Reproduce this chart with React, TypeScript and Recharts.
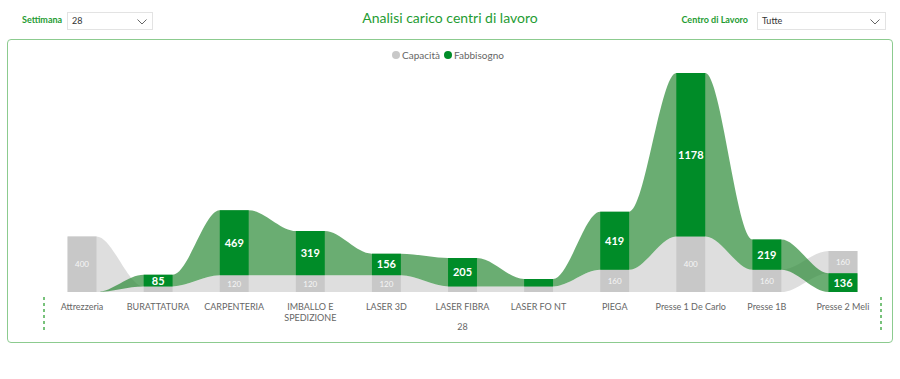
import React from "react";
import { ComposedChart, Area, Scatter, XAxis, YAxis } from "recharts";

const categories = [
  "Attrezzeria",
  "BURATTATURA",
  "CARPENTERIA",
  "IMBALLO E SPEDIZIONE",
  "LASER 3D",
  "LASER FIBRA",
  "LASER FO NT",
  "PIEGA",
  "Presse 1 De Carlo",
  "Presse 1B",
  "Presse 2 Meli",
];
const capacita = [400, 40, 120, 120, 120, 40, 40, 160, 400, 160, 160];
const fabbisogno = [0, 85, 469, 319, 156, 205, 54, 419, 1178, 219, 136];
const weekLabel = "28";

const FONT = "'Segoe UI', Lato, 'Open Sans', sans-serif";
const GREEN = "#008c28";
const GREEN_RIBBON = "#2b8a36";
const GREY = "#c8c8c8";
const TITLE_GREEN = "#1f9c33";

// half of a bar's width, in category units
const HALF = 0.19;
const MIN_LABEL_VALUE = 70;
const TICK_WRAP = 74;

// ribbon chart: in every category the larger value sits on top
function bands(i: number): Record<string, [number, number]> {
  const items = [
    { key: "cap", v: capacita[i] },
    { key: "fab", v: fabbisogno[i] },
  ].sort((a, b) => a.v - b.v);
  let base = 0;
  const out: Record<string, [number, number]> = {};
  for (const it of items) {
    out[it.key] = [base, base + it.v];
    base += it.v;
  }
  return out;
}

const rows: any[] = [];
categories.forEach((_, i) => {
  const b = bands(i);
  rows.push({ x: i - HALF, cap: b.cap, fab: b.fab });
  rows.push({ x: i + HALF, cap: b.cap, fab: b.fab });
  if (i < categories.length - 1) rows.push({ x: i + 0.5 });
});

const labelRows = categories
  .flatMap((_, i) => {
    const b = bands(i);
    return [
      { x: i, mid: (b.cap[0] + b.cap[1]) / 2, value: capacita[i], kind: "cap" },
      { x: i, mid: (b.fab[0] + b.fab[1]) / 2, value: fabbisogno[i], kind: "fab" },
    ];
  })
  .filter((r) => r.value >= MIN_LABEL_VALUE);

const yMax = Math.max(...categories.map((_, i) => capacita[i] + fabbisogno[i]));
const tickValues = [-0.5, ...categories.map((_, i) => i), categories.length - 0.5];

let ctx: CanvasRenderingContext2D | null = null;
function wrapLabel(label: string, max: number): string[] {
  if (!ctx) ctx = document.createElement("canvas").getContext("2d");
  if (ctx) ctx.font = `9px ${FONT}`;
  const measure = (s: string) => (ctx ? ctx.measureText(s).width : s.length * 5);
  const lines: string[] = [];
  let cur = "";
  for (const w of label.split(" ")) {
    const next = cur ? cur + " " + w : w;
    if (cur && measure(next) > max) {
      lines.push(cur);
      cur = w;
    } else cur = next;
  }
  if (cur) lines.push(cur);
  return lines;
}

function ValueLabel(props: any) {
  const { cx, cy, payload } = props;
  const fab = payload.kind === "fab";
  return (
    <text
      x={cx}
      y={cy}
      dy="0.36em"
      textAnchor="middle"
      fill={fab ? "#ffffff" : "#f6f6f6"}
      fontSize={fab ? 11 : 8}
      fontWeight={fab ? 700 : 400}
      fontFamily={FONT}
    >
      {payload.value}
    </text>
  );
}

function CategoryTick(props: any) {
  const { x, y, payload } = props;
  const v = payload.value;
  if (v < 0 || v > categories.length - 1) {
    return (
      <line x1={x} x2={x} y1={y + 5} y2={y + 41} stroke="#4caf50" strokeWidth={1.5} strokeDasharray="3 3" />
    );
  }
  const lines = wrapLabel(categories[v], TICK_WRAP);
  return (
    <text x={x} y={y + 18} textAnchor="middle" fill="#666" fontSize={9} fontFamily={FONT}>
      {lines.map((l, k) => (
        <tspan key={k} x={x} dy={k === 0 ? 0 : 11}>
          {l}
        </tspan>
      ))}
    </text>
  );
}

function Dropdown({ left, width, value }: { left: number; width: number; value: string }) {
  return (
    <div
      style={{
        position: "absolute",
        left,
        top: 12,
        width,
        height: 18,
        boxSizing: "border-box",
        border: "1px solid #e3e3e3",
        fontSize: 9,
        color: "#333",
        lineHeight: "16px",
        paddingLeft: 4,
      }}
    >
      {value}
      <svg width={10} height={6} style={{ position: "absolute", right: 5, top: 6 }}>
        <polyline points="0.5,0.5 5,5 9.5,0.5" fill="none" stroke="#666" strokeWidth={1} />
      </svg>
    </div>
  );
}

function LegendDot({ color, label }: { color: string; label: string }) {
  return (
    <span style={{ display: "inline-flex", alignItems: "center", marginRight: 4 }}>
      <span style={{ width: 8, height: 8, borderRadius: 4, background: color, marginRight: 2 }} />
      {label}
    </span>
  );
}

export default function App() {
  return (
    <div
      style={{
        position: "absolute",
        left: 0,
        top: 0,
        width: 900,
        height: 379,
        background: "#fff",
        fontFamily: FONT,
        overflow: "hidden",
      }}
    >
      <div style={{ position: "absolute", left: 22, top: 14, fontSize: 9, fontWeight: 700, color: TITLE_GREEN }}>
        Settimana
      </div>
      <Dropdown left={67} width={86} value={weekLabel} />
      <div
        style={{
          position: "absolute",
          left: 0,
          top: 9,
          width: 900,
          textAlign: "center",
          fontSize: 14,
          color: TITLE_GREEN,
        }}
      >
        Analisi carico centri di lavoro
      </div>
      <div
        style={{
          position: "absolute",
          right: 152,
          top: 14,
          fontSize: 9,
          fontWeight: 700,
          color: TITLE_GREEN,
          whiteSpace: "nowrap",
        }}
      >
        Centro di Lavoro
      </div>
      <Dropdown left={757} width={129} value="Tutte" />

      <div
        style={{
          position: "absolute",
          left: 7,
          top: 39,
          width: 886,
          height: 304,
          boxSizing: "border-box",
          border: "1.5px solid #8ccb8f",
          borderRadius: 4,
        }}
      />
      <div
        style={{
          position: "absolute",
          left: 0,
          top: 49,
          width: 900,
          textAlign: "center",
          fontSize: 10,
          color: "#666",
          lineHeight: "12px",
        }}
      >
        <LegendDot color={GREY} label="Capacità" />
        <LegendDot color={GREEN} label="Fabbisogno" />
      </div>

      <div style={{ position: "absolute", left: 0, top: 0 }}>
        <ComposedChart width={900} height={379} data={rows} margin={{ top: 73, right: 19, bottom: 42, left: 44 }}>
          <XAxis
            type="number"
            dataKey="x"
            domain={[-0.5, categories.length - 0.5]}
            allowDataOverflow
            ticks={tickValues}
            interval={0}
            tickLine={false}
            axisLine={false}
            tickSize={0}
            tickMargin={0}
            height={45}
            tick={<CategoryTick />}
            label={{ value: weekLabel, position: "insideBottom", offset: 7, fill: "#666", fontSize: 9, fontFamily: FONT }}
          />
          <YAxis hide type="number" domain={[0, yMax]} allowDataOverflow />
          <Area
            dataKey="cap"
            type="monotoneX"
            connectNulls
            stroke="none"
            fill={GREY}
            fillOpacity={0.6}
            dot={false}
            activeDot={false}
            isAnimationActive={false}
          />
          <Area
            dataKey="fab"
            type="monotoneX"
            connectNulls
            stroke="none"
            fill={GREEN_RIBBON}
            fillOpacity={0.7}
            dot={false}
            activeDot={false}
            isAnimationActive={false}
          />
          <Area
            dataKey="cap"
            type="linear"
            stroke="none"
            fill={GREY}
            fillOpacity={1}
            dot={false}
            activeDot={false}
            isAnimationActive={false}
          />
          <Area
            dataKey="fab"
            type="linear"
            stroke="none"
            fill={GREEN}
            fillOpacity={1}
            dot={false}
            activeDot={false}
            isAnimationActive={false}
          />
          <Scatter data={labelRows} dataKey="mid" shape={<ValueLabel />} isAnimationActive={false} />
        </ComposedChart>
      </div>
    </div>
  );
}
